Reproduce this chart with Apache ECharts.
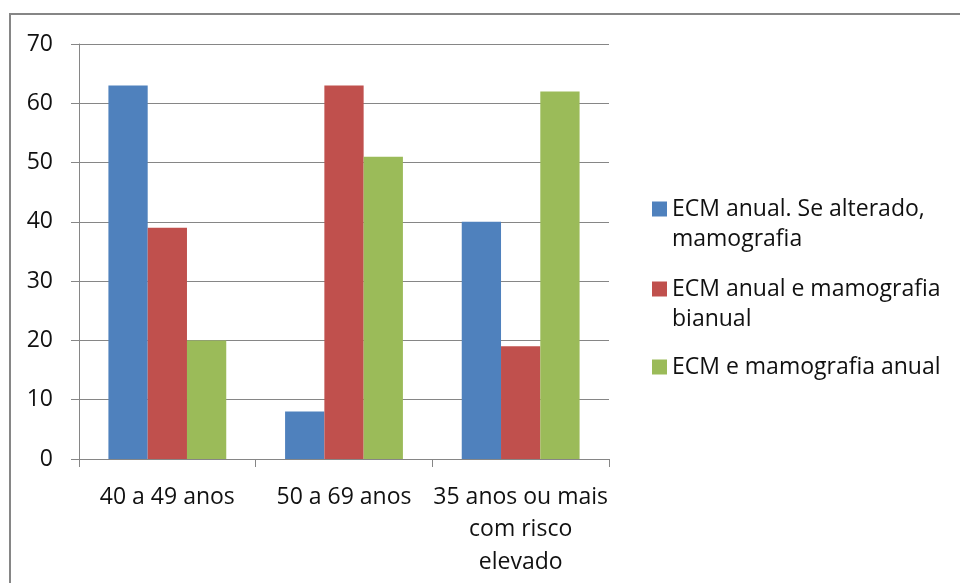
<!DOCTYPE html>
<html><head><meta charset="utf-8">
<script src="https://cdn.jsdelivr.net/npm/echarts@6/dist/echarts.min.js"></script>
<style>html,body{margin:0;padding:0;background:#fff}#c{width:960px;height:583px}</style>
</head><body><div id="c"></div>
<script>
const categories = ['40 a 49 anos', '50 a 69 anos', '35 anos ou mais\ncom risco\nelevado'];
const seriesNames = ['ECM anual. Se alterado,\nmamografia', 'ECM anual e mamografia\nbianual', 'ECM e mamografia anual'];
const blueValues = [63, 8, 40];
const redValues = [39, 63, 19];
const greenValues = [20, 51, 62];
const yTicks = [0, 10, 20, 30, 40, 50, 60, 70];

const colors = ['#4F81BD', '#C0504D', '#9BBB59'];
const FONT = 'Open Sans';
const FS = 23;
const chart = echarts.init(document.getElementById('c'), null, {renderer: 'canvas'});

function legendFor(i, top) {
  const twoLine = seriesNames[i].indexOf('\n') >= 0;
  return {
    show: true, orient: 'vertical', left: 652, top: top, padding: 0,
    itemWidth: 15, itemHeight: 15, itemGap: 0,
    icon: 'rect',
    data: [seriesNames[i]],
    formatter: twoLine ? (n => '\n' + n) : null,
    textStyle: {fontFamily: FONT, fontSize: FS, color: '#111', lineHeight: 30}
  };
}

const dataSets = [blueValues, redValues, greenValues];
chart.setOption({
  animation: false,
  color: colors,
  graphic: [{type: 'rect', shape: {x: 10, y: 14, width: 1000, height: 700},
    style: {fill: 'none', stroke: '#868686', lineWidth: 2}, silent: true}],
  grid: {left: 79, right: 351, top: 44, bottom: 124},
  legend: [legendFor(0, 164), legendFor(1, 244), legendFor(2, 352)],
  xAxis: {
    type: 'category', data: categories,
    axisLine: {lineStyle: {color: '#868686', width: 1}},
    axisTick: {show: true, length: 8, lineStyle: {color: '#868686'}},
    axisLabel: {fontFamily: FONT, fontSize: FS, color: '#111', lineHeight: 32.5, margin: 22, interval: 0}
  },
  yAxis: {
    type: 'value', min: yTicks[0], max: yTicks[yTicks.length - 1], interval: 10,
    axisLine: {show: true, lineStyle: {color: '#868686', width: 1}},
    axisTick: {show: true, length: 8, lineStyle: {color: '#868686'}},
    splitLine: {lineStyle: {color: '#868686', width: 1}},
    axisLabel: {fontFamily: FONT, fontSize: FS, color: '#111', margin: 26}
  },
  series: dataSets.map((d, i) => ({
    type: 'bar', name: seriesNames[i], data: d,
    barGap: '0%', barCategoryGap: '33.3%',
    itemStyle: {color: colors[i]}
  }))
});
</script></body></html>
